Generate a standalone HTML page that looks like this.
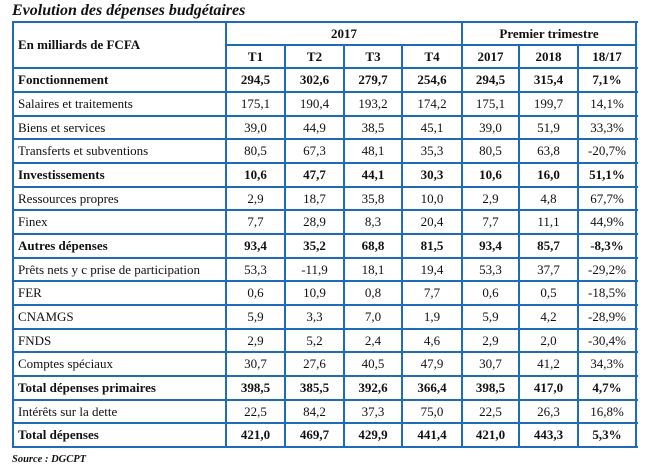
<!DOCTYPE html>
<html>
<head>
<meta charset="utf-8">
<style>
  html,body{margin:0;padding:0;background:#fff;}
  body{width:648px;height:473px;position:relative;overflow:hidden;
       font-family:"Liberation Serif","Times New Roman",serif;color:#111;}
  .h{position:absolute;height:2px;background:#1e6cb8;}
  .v{position:absolute;width:2px;background:#1e6cb8;}
  .row{position:absolute;left:13px;width:623px;display:flex;font-size:13px;}
  .row div{text-align:center;white-space:nowrap;}
  .row div:first-child{text-align:left;padding-left:5px;box-sizing:border-box;}
  .b{font-weight:bold;}
  .t{position:absolute;font-weight:bold;font-size:13px;text-align:center;white-space:nowrap;}
</style>
</head>
<body>
<div style="position:absolute;left:12px;top:2px;font-size:16px;line-height:18px;font-weight:bold;font-style:italic;white-space:nowrap;">Evolution des dépenses budgétaires</div>

<!-- horizontal lines -->
<div class="h" style="left:12px;width:626px;top:21px;"></div>
<div class="h" style="left:225px;width:412px;top:44px;"></div>
<div class="h" style="left:12px;width:626px;top:67px;"></div>
<div class="h" style="left:12px;width:626px;top:91px;"></div>
<div class="h" style="left:12px;width:626px;top:115px;"></div>
<div class="h" style="left:12px;width:626px;top:138px;"></div>
<div class="h" style="left:12px;width:626px;top:162px;"></div>
<div class="h" style="left:12px;width:626px;top:186px;"></div>
<div class="h" style="left:12px;width:626px;top:209px;"></div>
<div class="h" style="left:12px;width:626px;top:233px;"></div>
<div class="h" style="left:12px;width:626px;top:257px;"></div>
<div class="h" style="left:12px;width:626px;top:280px;"></div>
<div class="h" style="left:12px;width:626px;top:304px;"></div>
<div class="h" style="left:12px;width:626px;top:328px;"></div>
<div class="h" style="left:12px;width:626px;top:351px;"></div>
<div class="h" style="left:12px;width:626px;top:375px;"></div>
<div class="h" style="left:12px;width:626px;top:399px;"></div>
<div class="h" style="left:12px;width:626px;top:422px;"></div>
<div class="h" style="left:12px;width:626px;top:446px;"></div>

<!-- vertical lines -->
<div class="v" style="left:12px;top:21px;height:427px;"></div>
<div class="v" style="left:225px;top:21px;height:427px;"></div>
<div class="v" style="left:284px;top:44px;height:404px;"></div>
<div class="v" style="left:343px;top:44px;height:404px;"></div>
<div class="v" style="left:401px;top:44px;height:404px;"></div>
<div class="v" style="left:461px;top:21px;height:427px;"></div>
<div class="v" style="left:518px;top:44px;height:404px;"></div>
<div class="v" style="left:577px;top:44px;height:404px;"></div>
<div class="v" style="left:635px;top:21px;height:427px;"></div>

<!-- header -->
<div class="t" style="left:18px;top:23px;height:44px;line-height:44px;text-align:left;">En milliards de FCFA</div>
<div class="t" style="left:227px;width:234px;top:23px;height:21px;line-height:21px;">2017</div>
<div class="t" style="left:463px;width:172px;top:23px;height:21px;line-height:21px;">Premier trimestre</div>
<div class="row b" style="top:46px;height:21px;line-height:21px;">
  <div style="width:213px"></div><div style="width:59px">T1</div><div style="width:59px">T2</div><div style="width:58px">T3</div><div style="width:60px">T4</div><div style="width:57px">2017</div><div style="width:59px">2018</div><div style="width:58px">18/17</div>
</div>

<!-- data rows -->
<div class="row b" style="top:69px;height:22px;line-height:22px;">
  <div style="width:213px">Fonctionnement</div><div style="width:59px">294,5</div><div style="width:59px">302,6</div><div style="width:58px">279,7</div><div style="width:60px">254,6</div><div style="width:57px">294,5</div><div style="width:59px">315,4</div><div style="width:58px">7,1%</div>
</div>
<div class="row" style="top:93px;height:22px;line-height:22px;">
  <div style="width:213px">Salaires et traitements</div><div style="width:59px">175,1</div><div style="width:59px">190,4</div><div style="width:58px">193,2</div><div style="width:60px">174,2</div><div style="width:57px">175,1</div><div style="width:59px">199,7</div><div style="width:58px">14,1%</div>
</div>
<div class="row" style="top:117px;height:21px;line-height:21px;">
  <div style="width:213px">Biens et services</div><div style="width:59px">39,0</div><div style="width:59px">44,9</div><div style="width:58px">38,5</div><div style="width:60px">45,1</div><div style="width:57px">39,0</div><div style="width:59px">51,9</div><div style="width:58px">33,3%</div>
</div>
<div class="row" style="top:140px;height:22px;line-height:22px;">
  <div style="width:213px">Transferts et subventions</div><div style="width:59px">80,5</div><div style="width:59px">67,3</div><div style="width:58px">48,1</div><div style="width:60px">35,3</div><div style="width:57px">80,5</div><div style="width:59px">63,8</div><div style="width:58px">-20,7%</div>
</div>
<div class="row b" style="top:164px;height:22px;line-height:22px;">
  <div style="width:213px">Investissements</div><div style="width:59px">10,6</div><div style="width:59px">47,7</div><div style="width:58px">44,1</div><div style="width:60px">30,3</div><div style="width:57px">10,6</div><div style="width:59px">16,0</div><div style="width:58px">51,1%</div>
</div>
<div class="row" style="top:188px;height:21px;line-height:21px;">
  <div style="width:213px">Ressources propres</div><div style="width:59px">2,9</div><div style="width:59px">18,7</div><div style="width:58px">35,8</div><div style="width:60px">10,0</div><div style="width:57px">2,9</div><div style="width:59px">4,8</div><div style="width:58px">67,7%</div>
</div>
<div class="row" style="top:211px;height:22px;line-height:22px;">
  <div style="width:213px">Finex</div><div style="width:59px">7,7</div><div style="width:59px">28,9</div><div style="width:58px">8,3</div><div style="width:60px">20,4</div><div style="width:57px">7,7</div><div style="width:59px">11,1</div><div style="width:58px">44,9%</div>
</div>
<div class="row b" style="top:235px;height:22px;line-height:22px;">
  <div style="width:213px">Autres dépenses</div><div style="width:59px">93,4</div><div style="width:59px">35,2</div><div style="width:58px">68,8</div><div style="width:60px">81,5</div><div style="width:57px">93,4</div><div style="width:59px">85,7</div><div style="width:58px">-8,3%</div>
</div>
<div class="row" style="top:259px;height:21px;line-height:21px;">
  <div style="width:213px">Prêts nets y c prise de participation</div><div style="width:59px">53,3</div><div style="width:59px">-11,9</div><div style="width:58px">18,1</div><div style="width:60px">19,4</div><div style="width:57px">53,3</div><div style="width:59px">37,7</div><div style="width:58px">-29,2%</div>
</div>
<div class="row" style="top:282px;height:22px;line-height:22px;">
  <div style="width:213px">FER</div><div style="width:59px">0,6</div><div style="width:59px">10,9</div><div style="width:58px">0,8</div><div style="width:60px">7,7</div><div style="width:57px">0,6</div><div style="width:59px">0,5</div><div style="width:58px">-18,5%</div>
</div>
<div class="row" style="top:306px;height:22px;line-height:22px;">
  <div style="width:213px">CNAMGS</div><div style="width:59px">5,9</div><div style="width:59px">3,3</div><div style="width:58px">7,0</div><div style="width:60px">1,9</div><div style="width:57px">5,9</div><div style="width:59px">4,2</div><div style="width:58px">-28,9%</div>
</div>
<div class="row" style="top:330px;height:21px;line-height:21px;">
  <div style="width:213px">FNDS</div><div style="width:59px">2,9</div><div style="width:59px">5,2</div><div style="width:58px">2,4</div><div style="width:60px">4,6</div><div style="width:57px">2,9</div><div style="width:59px">2,0</div><div style="width:58px">-30,4%</div>
</div>
<div class="row" style="top:353px;height:22px;line-height:22px;">
  <div style="width:213px">Comptes spéciaux</div><div style="width:59px">30,7</div><div style="width:59px">27,6</div><div style="width:58px">40,5</div><div style="width:60px">47,9</div><div style="width:57px">30,7</div><div style="width:59px">41,2</div><div style="width:58px">34,3%</div>
</div>
<div class="row b" style="top:377px;height:22px;line-height:22px;">
  <div style="width:213px">Total dépenses primaires</div><div style="width:59px">398,5</div><div style="width:59px">385,5</div><div style="width:58px">392,6</div><div style="width:60px">366,4</div><div style="width:57px">398,5</div><div style="width:59px">417,0</div><div style="width:58px">4,7%</div>
</div>
<div class="row" style="top:401px;height:21px;line-height:21px;">
  <div style="width:213px">Intérêts sur la dette</div><div style="width:59px">22,5</div><div style="width:59px">84,2</div><div style="width:58px">37,3</div><div style="width:60px">75,0</div><div style="width:57px">22,5</div><div style="width:59px">26,3</div><div style="width:58px">16,8%</div>
</div>
<div class="row b" style="top:424px;height:22px;line-height:22px;">
  <div style="width:213px">Total dépenses</div><div style="width:59px">421,0</div><div style="width:59px">469,7</div><div style="width:58px">429,9</div><div style="width:60px">441,4</div><div style="width:57px">421,0</div><div style="width:59px">443,3</div><div style="width:58px">5,3%</div>
</div>

<div style="position:absolute;left:12px;top:453px;font-size:10.5px;line-height:14px;font-weight:bold;font-style:italic;white-space:nowrap;">Source : DGCPT</div>
</body>
</html>
